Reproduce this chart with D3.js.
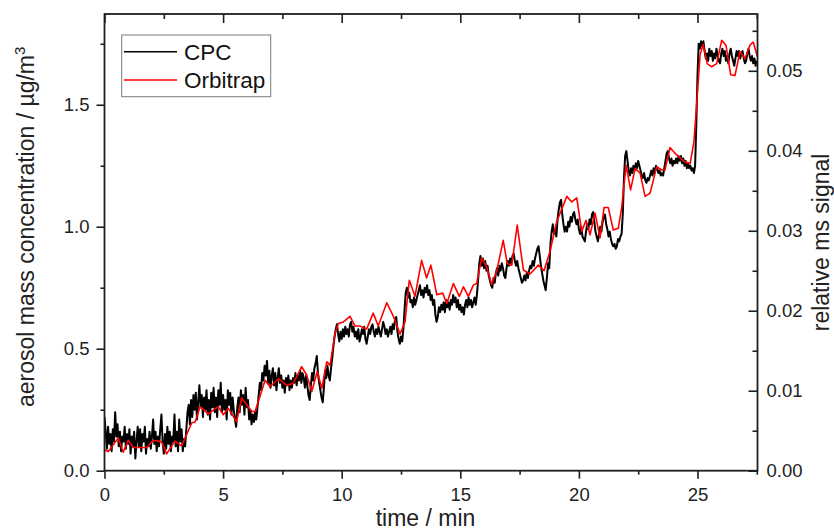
<!DOCTYPE html>
<html>
<head>
<meta charset="utf-8">
<script src="https://cdn.jsdelivr.net/npm/d3@7"></script>
<style>
  body { margin: 0; background: #fff; }
  svg { display: block; font-family: "Liberation Sans", Arial, Helvetica, sans-serif; }
</style>
</head>
<body>
<svg id="chart" width="834" height="530"></svg>
<script>
// ---- data ---------------------------------------------------------------
const seriesNames = ["CPC", "Orbitrap"];
const seriesColors = ["#000000", "#ff0000"];

// CPC-derived aerosol mass concentration (µg/m³), one reading every 0.05 min from t = 0
const cpcStep = 0.05;
const cpcMass = [
  // 0.00 – 3.40 min
  0.22,0.16,0.09,0.18,0.11,0.15,0.08,0.17,0.12,0.24,0.14,0.19,0.10,0.16,0.08,0.14,0.12,0.18,0.09,0.15,
  0.11,0.17,0.07,0.14,0.10,0.16,0.05,0.12,0.18,0.10,0.17,0.08,0.15,0.12,0.18,0.07,0.13,0.10,0.16,0.09,
  0.14,0.21,0.11,0.16,0.08,0.14,0.10,0.17,0.23,0.12,0.07,0.15,0.09,0.18,0.11,0.16,0.08,0.14,0.12,0.23,
  0.10,0.16,0.08,0.21,0.12,0.17,0.08,0.13,0.10,
  // 3.45 – 6.60 min
  0.17,0.24,0.27,0.19,0.29,0.22,0.31,0.25,0.32,0.21,0.28,
  0.35,0.26,0.31,0.22,0.30,0.25,0.33,0.23,0.29,0.21,0.32,0.26,0.34,0.24,0.30,0.22,0.33,0.27,0.36,0.24,
  0.31,0.25,0.29,0.21,0.33,0.27,0.32,0.23,0.30,0.25,0.21,0.18,0.26,0.30,0.24,0.33,0.27,0.31,0.23,0.34,
  0.26,0.29,0.21,0.25,0.19,0.23,0.20,0.24,0.21,0.26,0.31,0.36,0.33,
  // 6.65 – 9.55 min
  0.40,0.37,0.43,0.39,0.45,0.36,0.41,
  0.34,0.39,0.42,0.35,0.40,0.33,0.38,0.42,0.36,0.39,0.34,0.37,0.32,0.38,0.35,0.39,0.33,0.37,0.34,0.38,
  0.36,0.40,0.35,0.39,0.37,0.41,0.36,0.40,0.38,0.34,0.39,0.35,0.31,0.29,0.35,0.40,0.37,0.42,0.44,0.47,
  0.40,0.36,0.33,0.30,0.28,0.34,0.41,0.38,0.43,0.39,0.37,0.42,
  // 9.60 – 12.60 min
  0.46,0.51,0.55,0.58,0.60,0.56,0.53,0.57,
  0.54,0.58,0.55,0.59,0.56,0.58,0.55,0.60,0.61,0.57,0.59,0.55,0.57,0.54,0.58,0.53,0.55,0.58,0.56,0.59,
  0.54,0.52,0.55,0.58,0.56,0.59,0.60,0.57,0.55,0.58,0.56,0.59,0.57,0.55,0.58,0.61,0.59,0.56,0.58,0.55,
  0.57,0.59,0.56,0.60,0.58,0.62,0.63,0.57,0.54,0.52,0.55,0.53,0.58,
  // 12.65 – 15.70 min
  0.66,0.73,0.75,0.71,0.73,0.69,0.70,
  0.67,0.71,0.68,0.70,0.72,0.74,0.76,0.72,0.74,0.71,0.75,0.73,0.76,0.72,0.74,0.70,0.72,0.68,0.70,0.64,
  0.61,0.63,0.67,0.65,0.68,0.66,0.69,0.65,0.70,0.67,0.69,0.66,0.70,0.68,0.72,0.69,0.71,0.67,0.70,0.66,
  0.68,0.65,0.67,0.64,0.68,0.70,0.67,0.71,0.68,0.70,0.67,0.69,0.71,0.68,0.72,
  // 15.75 – 18.85 min
  0.78,0.85,0.88,0.84,0.87,
  0.83,0.86,0.82,0.84,0.80,0.78,0.76,0.75,0.79,0.77,0.81,0.83,0.80,0.84,0.82,0.85,0.83,0.80,0.79,0.83,
  0.86,0.84,0.87,0.85,0.88,0.89,0.86,0.84,0.86,0.83,0.81,0.79,0.77,0.78,0.80,0.78,0.81,0.79,0.82,0.84,
  0.83,0.86,0.84,0.87,0.89,0.91,0.92,0.88,0.84,0.81,0.78,0.76,0.74,0.79,0.85,0.83,0.93,0.98,
  // 18.90 – 21.90 min
  1.01,0.97,
  0.99,0.96,1.03,1.07,1.10,1.11,1.05,1.01,0.98,1.00,0.98,1.02,1.00,1.04,1.02,1.05,1.06,1.03,1.01,1.03,
  0.99,0.97,1.00,0.96,0.95,0.94,0.98,1.01,0.99,1.03,1.01,1.05,1.06,1.02,0.98,0.96,0.94,0.97,1.00,0.98,
  1.02,1.04,1.05,1.01,0.99,0.96,0.98,0.95,0.93,0.92,0.93,0.91,0.92,0.95,0.94,0.96,0.97,1.05,1.20,
  // 21.95 – 24.95 min
  1.29,
  1.31,1.27,1.23,1.21,1.24,1.22,1.25,1.23,1.26,1.24,1.27,1.25,1.23,1.21,1.20,1.22,1.19,1.18,1.20,1.19,
  1.21,1.23,1.21,1.24,1.22,1.25,1.24,1.22,1.23,1.21,1.22,1.21,1.24,1.27,1.30,1.31,1.28,1.26,1.28,1.25,
  1.27,1.26,1.28,1.26,1.29,1.27,1.29,1.26,1.28,1.25,1.27,1.24,1.26,1.24,1.25,1.23,1.24,1.22,1.25,1.42,
  // 25.00 – 27.50 min
  1.62,1.75,1.73,1.76,1.74,1.76,1.72,1.69,1.71,1.68,1.73,1.70,1.72,1.68,1.71,1.69,1.73,1.70,1.68,1.67,
  1.71,1.73,1.70,1.72,1.68,1.70,1.67,1.71,1.73,1.70,1.68,1.66,1.69,1.72,1.70,1.72,1.69,1.71,1.72,1.69,
  1.67,1.68,1.71,1.73,1.70,1.68,1.70,1.67,1.69,1.66,1.68
];

// Orbitrap relative MS signal, one value per scan
const orbitrapTime = [
  0.02,0.16,0.58,0.79,1.00,1.21,1.50,1.78,2.06,2.41,
  2.62,2.97,3.25,3.68,3.82,4.03,4.38,4.80,5.01,5.22,
  5.57,5.78,6.21,6.35,6.77,6.98,7.33,7.68,7.96,8.31,
  8.52,8.74,8.97,9.16,9.37,9.51,9.72,9.86,10.07,10.35,
  10.56,10.77,11.05,11.33,11.54,11.90,12.18,12.46,12.67,12.85,
  13.09,13.37,13.58,13.76,14.01,14.26,14.43,14.71,14.96,15.13,
  15.34,15.55,15.69,15.90,16.11,16.32,16.53,16.81,16.98,17.17,
  17.40,17.66,17.94,18.29,18.53,18.78,19.06,19.49,19.70,19.91,
  20.12,20.30,20.47,20.68,20.89,21.06,21.24,21.45,21.66,21.80,
  21.99,22.18,22.37,22.58,22.79,23.00,23.28,23.49,23.63,23.84,
  24.05,24.26,24.47,24.69,24.85,24.97,25.11,25.24,25.41,25.60,
  25.81,26.02,26.20,26.40,26.58,26.79,27.00,27.21,27.35,27.52
];
const orbitrapSignal = [
  0.0026,0.0024,0.0041,0.0023,0.0038,0.0029,0.0029,0.0029,0.0038,0.0036,
  0.0021,0.0037,0.0031,0.0060,0.0061,0.0080,0.0071,0.0080,0.0070,0.0078,
  0.0061,0.0091,0.0074,0.0074,0.0113,0.0105,0.0115,0.0107,0.0109,0.0130,
  0.0120,0.0099,0.0124,0.0103,0.0136,0.0132,0.0172,0.0184,0.0186,0.0193,
  0.0181,0.0181,0.0177,0.0197,0.0181,0.0210,0.0193,0.0171,0.0186,0.0238,
  0.0218,0.0263,0.0241,0.0257,0.0220,0.0222,0.0209,0.0234,0.0218,0.0230,
  0.0218,0.0232,0.0234,0.0266,0.0255,0.0233,0.0249,0.0288,0.0259,0.0257,
  0.0307,0.0251,0.0246,0.0257,0.0250,0.0274,0.0311,0.0343,0.0336,0.0341,
  0.0299,0.0313,0.0295,0.0322,0.0291,0.0329,0.0329,0.0301,0.0303,0.0328,
  0.0382,0.0351,0.0378,0.0372,0.0343,0.0347,0.0380,0.0376,0.0376,0.0404,
  0.0397,0.0391,0.0386,0.0384,0.0411,0.0461,0.0520,0.0533,0.0509,0.0505,
  0.0509,0.0538,0.0532,0.0495,0.0494,0.0524,0.0515,0.0532,0.0536,0.0518
];

// axis ticks
const timeTicks = [0, 5, 10, 15, 20, 25];
const timeMinorTicks = [2.5, 7.5, 12.5, 17.5, 22.5, 27.5];
const massTicks = [0, 0.5, 1.0, 1.5];
const massMinorTicks = [0.25, 0.75, 1.25, 1.75];
const signalTicks = [0, 0.01, 0.02, 0.03, 0.04, 0.05];
const signalMinorTicks = [0.005, 0.015, 0.025, 0.035, 0.045, 0.055];

// ---- layout -------------------------------------------------------------
const plot = { left: 104.5, right: 757.5, top: 14, bottom: 470.7 };
const axisColor = "#1e1e1e";
const tickFont = 18.5, titleFont = 23, legendFont = 22.5;

const x = d3.scaleLinear().domain([0, 27.53]).range([plot.left, plot.right]);
const yMass = d3.scaleLinear().domain([0, 1.872]).range([plot.bottom, plot.top]);
const ySignal = d3.scaleLinear().domain([0, 0.0571]).range([plot.bottom, plot.top]);

const svg = d3.select("#chart");
svg.append("rect").attr("width", 834).attr("height", 530).attr("fill", "#fff");

svg.append("defs").append("clipPath").attr("id", "plot-clip")
  .append("rect")
  .attr("x", plot.left).attr("y", plot.top)
  .attr("width", plot.right - plot.left).attr("height", plot.bottom - plot.top);

// ---- series -------------------------------------------------------------
const cpcPoints = cpcMass.map((v, i) => ({ t: i * cpcStep, v }));
const orbiPoints = orbitrapTime.map((t, i) => ({ t, v: orbitrapSignal[i] }));

const lines = svg.append("g").attr("clip-path", "url(#plot-clip)");
lines.append("path")
  .datum(cpcPoints)
  .attr("fill", "none")
  .attr("stroke", seriesColors[0])
  .attr("stroke-width", 2.0)
  .attr("stroke-linejoin", "round")
  .attr("d", d3.line().x(d => x(d.t)).y(d => yMass(d.v)));
lines.append("path")
  .datum(orbiPoints)
  .attr("fill", "none")
  .attr("stroke", seriesColors[1])
  .attr("stroke-width", 1.6)
  .attr("stroke-linejoin", "round")
  .attr("d", d3.line().x(d => x(d.t)).y(d => ySignal(d.v)));

// ---- axes ---------------------------------------------------------------
function styleAxis(g) {
  g.select(".domain").remove();
  g.selectAll(".tick line").attr("stroke", axisColor).attr("stroke-width", 1.6);
  g.selectAll(".tick text")
    .attr("fill", "#222")
    .attr("font-size", tickFont)
    .attr("font-family", "'Liberation Sans', Arial, sans-serif");
}

// bottom (time), ticks outward
svg.append("g").attr("transform", `translate(0,${plot.bottom})`)
  .call(d3.axisBottom(x).tickValues(timeTicks).tickSize(8).tickPadding(9).tickFormat(d3.format("d")))
  .call(styleAxis);
svg.append("g").attr("transform", `translate(0,${plot.bottom})`)
  .call(d3.axisBottom(x).tickValues(timeMinorTicks.filter(t => t <= 27.53)).tickSize(4).tickFormat(""))
  .call(styleAxis);

// top mirror, ticks inward
svg.append("g").attr("transform", `translate(0,${plot.top})`)
  .call(d3.axisTop(x).tickValues(timeTicks).tickSize(-9).tickFormat(""))
  .call(styleAxis);
svg.append("g").attr("transform", `translate(0,${plot.top})`)
  .call(d3.axisTop(x).tickValues(timeMinorTicks.filter(t => t <= 27.53)).tickSize(-5).tickFormat(""))
  .call(styleAxis);

// left (mass), ticks outward
svg.append("g").attr("transform", `translate(${plot.left},0)`)
  .call(d3.axisLeft(yMass).tickValues(massTicks).tickSize(8).tickPadding(7).tickFormat(d3.format(".1f")))
  .call(styleAxis);
svg.append("g").attr("transform", `translate(${plot.left},0)`)
  .call(d3.axisLeft(yMass).tickValues(massMinorTicks).tickSize(4).tickFormat(""))
  .call(styleAxis);

// right (signal), ticks inward
svg.append("g").attr("transform", `translate(${plot.right},0)`)
  .call(d3.axisRight(ySignal).tickValues(signalTicks).tickSize(-9).tickPadding(9).tickFormat(d3.format(".2f")))
  .call(styleAxis);
svg.append("g").attr("transform", `translate(${plot.right},0)`)
  .call(d3.axisRight(ySignal).tickValues(signalMinorTicks).tickSize(-5).tickFormat(""))
  .call(styleAxis);

// frame
svg.append("rect")
  .attr("x", plot.left).attr("y", plot.top)
  .attr("width", plot.right - plot.left).attr("height", plot.bottom - plot.top)
  .attr("fill", "none").attr("stroke", axisColor).attr("stroke-width", 1.8);

// ---- titles -------------------------------------------------------------
svg.append("text")
  .attr("x", 425.5).attr("y", 526)
  .attr("text-anchor", "middle")
  .attr("font-size", titleFont).attr("fill", "#222")
  .text("time / min");

const leftTitle = svg.append("text")
  .attr("transform", "translate(33.5,407) rotate(-90)")
  .attr("text-anchor", "start")
  .attr("font-size", titleFont).attr("fill", "#222");
leftTitle.append("tspan").text("aerosol mass concentration / µg/m");
leftTitle.append("tspan").attr("dy", -9).attr("font-size", 15).text("3");

svg.append("text")
  .attr("transform", "translate(829,242.4) rotate(-90)")
  .attr("text-anchor", "middle")
  .attr("font-size", titleFont).attr("fill", "#222")
  .text("relative ms signal");

// ---- legend -------------------------------------------------------------
const legend = svg.append("g");
legend.append("rect")
  .attr("x", 121.7).attr("y", 35).attr("width", 149).attr("height", 61.7)
  .attr("fill", "#fff").attr("stroke", "#7a7a7a").attr("stroke-width", 1);
const legendRows = [51.7, 80];
seriesNames.forEach((name, i) => {
  legend.append("line")
    .attr("x1", 124).attr("x2", 177)
    .attr("y1", legendRows[i]).attr("y2", legendRows[i])
    .attr("stroke", seriesColors[i]).attr("stroke-width", 1.6);
  legend.append("text")
    .attr("x", 184).attr("y", legendRows[i])
    .attr("dy", "0.35em")
    .attr("font-size", legendFont).attr("fill", "#111")
    .text(name);
});
</script>
</body>
</html>
